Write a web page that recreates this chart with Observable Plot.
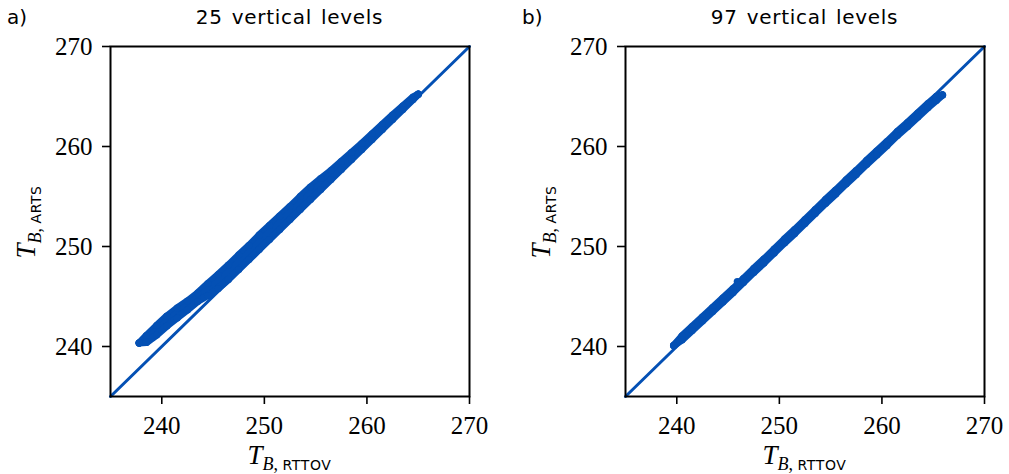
<!DOCTYPE html>
<html>
<head>
<meta charset="utf-8">
<script src="https://cdn.jsdelivr.net/npm/d3@7"></script>
<script src="https://cdn.jsdelivr.net/npm/@observablehq/plot@0.6"></script>
<style>
  body { margin: 0; background: white; }
  #wrap { position: relative; width: 1009px; height: 474px; overflow: hidden; background: white; }
  .panel { position: absolute; top: 0; }
  .panel text { font-family: "Liberation Serif", serif; }
  .txt { position: absolute; white-space: nowrap; color: black; }
  .tag, .title { font-family: "DejaVu Sans", sans-serif; font-size: 20px; }
  .title { letter-spacing: 0.7px; word-spacing: 2px; transform: translateX(-50%); }
  .lab { font-family: "Liberation Serif", serif; }
  .lab .T { font-style: italic; font-size: 27px; }
  .lab .sub { position: relative; top: 6px; font-size: 18px; }
  .lab .B { font-style: italic; }
  .lab .sf { font-family: "DejaVu Sans", sans-serif; font-size: 14px; letter-spacing: 0.6px; }
</style>
</head>
<body>
<div id="wrap"></div>
<script>
// ---- data ----
const tickValues = [240, 250, 260, 270];
const axisDomain = [235, 270];
const oneToOne = [235, 270];
const panelTags = ["a)", "b)"];
const panelTitles = ["25 vertical levels", "97 vertical levels"];
const xLabelSub = "RTTOV";
const yLabelSub = "ARTS";

// Panel a (25 levels): RTTOV TB and upper/lower envelope of ARTS TB scatter
const rttovA      = [237.8, 238.5, 239.5, 240.5, 241.5, 242.5, 243.5, 244.5, 245.5, 246.5, 247.5, 248.5, 249.5, 250.5, 251.5, 252.5, 253.5, 254.5, 255.5, 256.5, 257.5, 258.5, 259.5, 260.5, 261.5, 262.5, 263.5, 264.5, 265.0];
const artsAUpper  = [240.35, 241.1, 242.1, 243.05, 243.85, 244.55, 245.35, 246.3, 247.2, 248.15, 249.15, 250.1, 251.15, 252.1, 253.05, 254.0, 255.0, 255.95, 256.8, 257.6, 258.5, 259.4, 260.3, 261.25, 262.2, 263.15, 264.05, 264.95, 265.25];
const artsALower  = [240.35, 240.4, 241.15, 242.05, 242.85, 243.65, 244.5, 245.1, 245.8, 246.7, 247.7, 248.7, 249.7, 250.7, 251.7, 252.7, 253.7, 254.7, 255.7, 256.7, 257.7, 258.7, 259.7, 260.7, 261.7, 262.7, 263.7, 264.7, 265.2];

// Panel b (97 levels)
const rttovB      = [239.7, 240.5, 241.5, 242.5, 243.5, 244.5, 245.5, 246.5, 247.5, 248.5, 249.5, 250.5, 251.5, 252.5, 253.5, 254.5, 255.5, 256.5, 257.5, 258.5, 259.5, 260.5, 261.5, 262.5, 263.5, 264.5, 265.3, 265.9];
const artsBUpper  = [240.1, 241.05, 242.0, 242.95, 243.9, 244.85, 245.8, 246.8, 247.8, 248.75, 249.75, 250.75, 251.7, 252.7, 253.7, 254.7, 255.65, 256.65, 257.6, 258.6, 259.55, 260.5, 261.5, 262.4, 263.35, 264.3, 265.0, 265.15];
const artsBLower  = [240.1, 240.65, 241.6, 242.55, 243.5, 244.45, 245.4, 246.4, 247.4, 248.35, 249.35, 250.35, 251.3, 252.3, 253.3, 254.3, 255.25, 256.25, 257.2, 258.2, 259.15, 260.1, 261.1, 262.0, 262.95, 263.9, 264.6, 265.15];
const rttovBOut   = [245.9, 245.95];
const artsBOut    = [246.5, 246.2];

// ---- style ----
const blue = "#0450b4";
const W = 500, H = 474;
const M = {left: 110, right: 31, top: 46, bottom: 78};
const panelLeft = [0, 515];
const dotR = 3.6;

function panel(rttov, upper, lower, outX, outY) {
  const band = rttov.map((x, i) => ({x, hi: upper[i], lo: lower[i], mid: (upper[i] + lower[i]) / 2}));
  const out = outX.map((x, i) => ({x, y: outY[i]}));
  const edge = key => Plot.line(band, {x: "x", y: key, stroke: blue, strokeWidth: 2 * dotR, strokeLinecap: "round", strokeLinejoin: "round"});
  return Plot.plot({
    width: W, height: H,
    marginLeft: M.left, marginRight: M.right, marginTop: M.top, marginBottom: M.bottom,
    style: {background: "white", overflow: "visible", fontFamily: "Liberation Serif"},
    x: {domain: axisDomain},
    y: {domain: axisDomain},
    marks: [
      Plot.line(oneToOne, {x: d => d, y: d => d, stroke: blue, strokeWidth: 3}),
      Plot.areaY(band, {x: "x", y1: "lo", y2: "hi", fill: blue}),
      edge("hi"), edge("mid"), edge("lo"),
      Plot.dot(band, {x: "x", y: "hi", r: dotR, fill: blue, stroke: null}),
      Plot.dot(band, {x: "x", y: "lo", r: dotR, fill: blue, stroke: null}),
      Plot.dot(out, {x: "x", y: "y", r: dotR, fill: blue, stroke: null}),
      Plot.frame({stroke: "black", strokeWidth: 2}),
      Plot.axisX(tickValues, {tickSize: 8, tickPadding: 12, fontSize: 25, fontFamily: "Liberation Serif", stroke: "black", strokeWidth: 1.6, label: null}),
      Plot.axisY(tickValues, {tickSize: 8, tickPadding: 10, fontSize: 25, fontFamily: "Liberation Serif", stroke: "black", strokeWidth: 1.6, label: null})
    ]
  });
}

const wrap = document.getElementById("wrap");
const charts = [
  panel(rttovA, artsAUpper, artsALower, [], []),
  panel(rttovB, artsBUpper, artsBLower, rttovBOut, artsBOut)
];

function addText(html, cls, left, top, extra) {
  const d = document.createElement("div");
  d.className = "txt " + cls;
  d.innerHTML = html;
  d.style.left = left + "px";
  d.style.top = top + "px";
  if (extra) Object.assign(d.style, extra);
  wrap.appendChild(d);
  return d;
}

charts.forEach((svg, k) => {
  svg.classList.add("panel");
  svg.style.position = "absolute";
  svg.style.left = panelLeft[k] + "px";
  svg.style.top = "0px";
  wrap.appendChild(svg);
  const L = panelLeft[k];
  const cx = L + M.left + (W - M.left - M.right) / 2;
  addText(panelTags[k], "tag", L + 7, 5);
  addText(panelTitles[k], "title", cx, 5);
  const lab = s => `<span class="T">T</span><span class="sub"><span class="B">B</span>,&nbsp;<span class="sf">${s}</span></span>`;
  addText(lab(xLabelSub), "lab", cx, 440, {transform: "translateX(-50%)"});
  addText(lab(yLabelSub), "lab", L + 26, 222, {transform: "translate(-50%,-50%) rotate(-90deg)"});
});
</script>
</body>
</html>
